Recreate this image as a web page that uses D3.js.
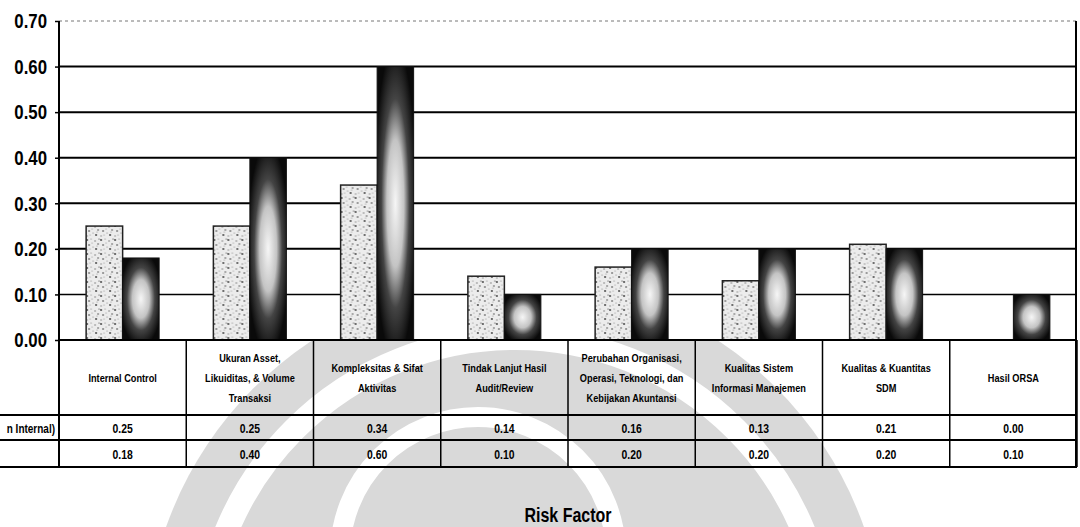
<!DOCTYPE html>
<html lang="en">
<head>
    <meta charset="UTF-8">
    <title>Risk Factor</title>
    <script src="https://d3js.org/d3.v7.min.js"></script>
    <style>
        body {
            margin: 0;
            padding: 0;
            background-color: #fff;
            overflow: hidden;
        }
        svg text {
            font-family: "Liberation Sans", Arial, sans-serif;
            font-weight: bold;
        }
    </style>
</head>
<body>
    <svg id="chart" width="1080" height="527"></svg>

    <script>
        // data
        const categories = [
            "Internal Control",
            "Ukuran Asset, Likuiditas, & Volume Transaksi",
            "Kompleksitas & Sifat Aktivitas",
            "Tindak Lanjut Hasil Audit/Review",
            "Perubahan Organisasi, Operasi, Teknologi, dan Kebijakan Akuntansi",
            "Kualitas Sistem Informasi Manajemen",
            "Kualitas & Kuantitas SDM",
            "Hasil ORSA"
        ];
        // wrapped lines as they appear in the table cells
        const categoryLines = [
            ["Internal Control"],
            ["Ukuran Asset,", "Likuiditas, & Volume", "Transaksi"],
            ["Kompleksitas & Sifat", "Aktivitas"],
            ["Tindak Lanjut Hasil", "Audit/Review"],
            ["Perubahan Organisasi,", "Operasi, Teknologi, dan", "Kebijakan Akuntansi"],
            ["Kualitas Sistem", "Informasi Manajemen"],
            ["Kualitas & Kuantitas", "SDM"],
            ["Hasil ORSA"]
        ];
        const seriesNames = ["n Internal)", ""];
        const series1Values = [0.25, 0.25, 0.34, 0.14, 0.16, 0.13, 0.21, 0.00];
        const series2Values = [0.18, 0.40, 0.60, 0.10, 0.20, 0.20, 0.20, 0.10];
        const yTicks = [0.00, 0.10, 0.20, 0.30, 0.40, 0.50, 0.60, 0.70];
        const xTitle = "Risk Factor";

        const svg = d3.select("#chart");
        const plotLeft = 59, plotRight = 1077, plotTop = 21, zeroY = 340;
        const rowY = [340, 415, 440, 467];
        const narrow = 0.8; // squeeze to look like a narrow typeface

        const x = d3.scaleBand().domain(categories).range([plotLeft, plotRight]);
        const y = d3.scaleLinear().domain([0, 0.7]).range([zeroY, plotTop]);
        const pairW = 73;
        const inner = d3.scaleBand().domain([0, 1]).range([0, pairW]);

        const defs = svg.append("defs");

        // speckled fill for the first series
        const pat = defs.append("pattern")
            .attr("id", "speckle")
            .attr("patternUnits", "userSpaceOnUse")
            .attr("width", 14).attr("height", 14);
        pat.append("rect").attr("width", 14).attr("height", 14).attr("fill", "#ececec");
        const dots = [[1,2,0.9],[5,1,0.6],[9,3,0.8],[12,6,0.7],[3,7,1.0],[7,9,0.6],[10,11,0.9],[1,12,0.7],[6,5,0.5],[13,1,0.6],[4,11,0.5],[11,8,0.5]];
        pat.selectAll("circle").data(dots).join("circle")
            .attr("cx", d => d[0]).attr("cy", d => d[1]).attr("r", d => d[2])
            .attr("fill", (d, i) => i % 3 === 0 ? "#333" : "#808080");

        // glowing fill for the second series
        const rg = defs.append("radialGradient")
            .attr("id", "glow")
            .attr("cx", "50%").attr("cy", "50%").attr("r", "58%");
        rg.append("stop").attr("offset", "0%").attr("stop-color", "#f6f6f6");
        rg.append("stop").attr("offset", "40%").attr("stop-color", "#c4c4c4");
        rg.append("stop").attr("offset", "66%").attr("stop-color", "#444");
        rg.append("stop").attr("offset", "100%").attr("stop-color", "#0a0a0a");

        // faint watermark behind the page
        const wm = svg.append("g").attr("class", "watermark");
        wm.append("circle").attr("cx", 515).attr("cy", 650).attr("r", 370).attr("fill", "#d9d9d9");
        wm.append("circle").attr("cx", 515).attr("cy", 650).attr("r", 312)
            .attr("fill", "none").attr("stroke", "#fff").attr("stroke-width", 24);
        wm.append("circle").attr("cx", 478).attr("cy", 555).attr("r", 138)
            .attr("fill", "none").attr("stroke", "#fff").attr("stroke-width", 20);

        // plot area
        svg.append("rect")
            .attr("x", plotLeft).attr("y", plotTop)
            .attr("width", plotRight - plotLeft).attr("height", zeroY - plotTop)
            .attr("fill", "#fff");

        // gridlines
        svg.append("g").selectAll("line")
            .data(yTicks.filter(t => t > 0))
            .join("line")
            .attr("x1", plotLeft).attr("x2", plotRight)
            .attr("y1", d => y(d)).attr("y2", d => y(d))
            .attr("stroke", d => d >= 0.7 ? "#777" : "#000")
            .attr("stroke-width", d => d >= 0.7 ? 1 : (d < 0.15 ? 1.5 : 2))
            .attr("stroke-dasharray", d => d >= 0.7 ? "3,3" : null);

        // y axis
        const yAxis = d3.axisLeft(y).tickValues(yTicks).tickFormat(d3.format(".2f")).tickSize(4).tickPadding(11);
        const ya = svg.append("g").attr("transform", `translate(${plotLeft},0)`).call(yAxis);
        ya.select(".domain").remove();
        ya.selectAll("line").attr("stroke", "#000").attr("stroke-width", 1.5);
        ya.selectAll("text")
            .attr("transform", `scale(${narrow},1)`)
            .style("font-size", "21px")
            .attr("fill", "#000");

        svg.append("line")
            .attr("x1", plotLeft).attr("x2", plotLeft).attr("y1", plotTop).attr("y2", rowY[3])
            .attr("stroke", "#000").attr("stroke-width", 2);
        svg.append("line")
            .attr("x1", plotRight - 1).attr("x2", plotRight - 1).attr("y1", plotTop).attr("y2", rowY[3])
            .attr("stroke", "#000").attr("stroke-width", 2);

        // bars
        const groups = svg.append("g").selectAll("g")
            .data(categories)
            .join("g")
            .attr("transform", d => `translate(${x(d) + (x.bandwidth() - pairW) / 2},0)`);

        groups.append("rect")
            .attr("x", inner(0))
            .attr("y", (d, i) => y(series1Values[i]))
            .attr("width", inner.bandwidth())
            .attr("height", (d, i) => zeroY - y(series1Values[i]))
            .attr("fill", "url(#speckle)")
            .attr("stroke", "#222")
            .attr("stroke-width", (d, i) => series1Values[i] > 0 ? 1.5 : 0);

        groups.append("rect")
            .attr("x", inner(1))
            .attr("y", (d, i) => y(series2Values[i]))
            .attr("width", inner.bandwidth())
            .attr("height", (d, i) => zeroY - y(series2Values[i]))
            .attr("fill", "url(#glow)")
            .attr("stroke", "#111")
            .attr("stroke-width", 1);

        // data table
        const table = svg.append("g");
        table.selectAll("line.h")
            .data(rowY)
            .join("line")
            .attr("class", "h")
            .attr("x1", (d, i) => i === 0 ? plotLeft : 0)
            .attr("x2", plotRight)
            .attr("y1", d => d).attr("y2", d => d)
            .attr("stroke", "#000").attr("stroke-width", 2);

        table.selectAll("line.v")
            .data(categories)
            .join("line")
            .attr("class", "v")
            .attr("x1", d => x(d) + x.bandwidth()).attr("x2", d => x(d) + x.bandwidth())
            .attr("y1", rowY[0]).attr("y2", rowY[3])
            .attr("stroke", "#000").attr("stroke-width", 1.5);

        // narrow text placed at (px, py)
        function narrowText(parent, px, py, str, size, anchor) {
            return parent.append("g")
                .attr("transform", `translate(${px},${py}) scale(${narrow},1)`)
                .append("text")
                .attr("text-anchor", anchor || "middle")
                .style("font-size", size + "px")
                .attr("fill", "#000")
                .text(str);
        }

        // category labels
        categories.forEach((c, i) => {
            const lines = categoryLines[i];
            const cy = (rowY[0] + rowY[1]) / 2;
            const lh = 20;
            lines.forEach((ln, j) => {
                narrowText(table, x(c) + x.bandwidth() / 2, cy + 4 + (j - (lines.length - 1) / 2) * lh, ln, 11.5);
            });
        });

        // value rows
        [series1Values, series2Values].forEach((vals, r) => {
            const cy = (rowY[r + 1] + rowY[r + 2]) / 2 + 5;
            vals.forEach((v, i) => {
                narrowText(table, x(categories[i]) + x.bandwidth() / 2, cy, v.toFixed(2), 13);
            });
            narrowText(table, plotLeft - 4, cy, seriesNames[r], 12.5, "end");
        });

        // axis title
        narrowText(svg, 568, 522, xTitle, 20);
    </script>
</body>
</html>
